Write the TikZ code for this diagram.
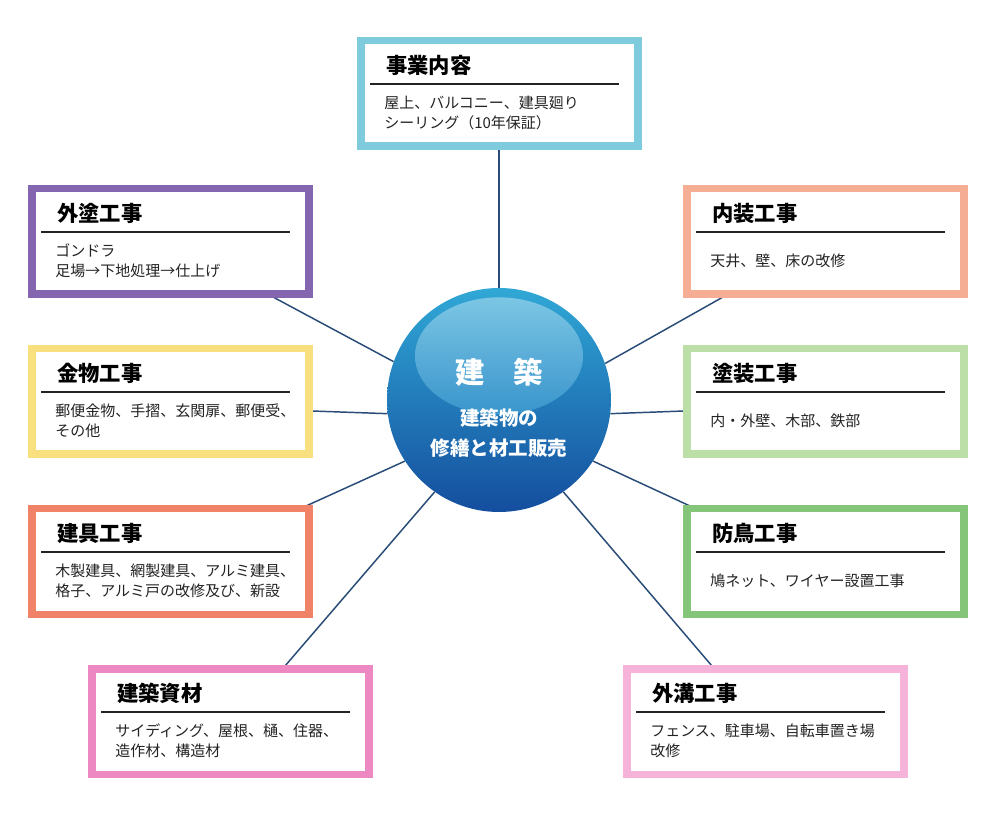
\documentclass[tikz,border=0pt]{standalone}
\usepackage{fontspec}
\setmainfont{Noto Sans CJK JP}
\usetikzlibrary{shapes.geometric}
\definecolor{cBlue}{RGB}{126,203,222}
\definecolor{cPurple}{RGB}{132,102,176}
\definecolor{cSalmon}{RGB}{245,174,148}
\definecolor{cYellow}{RGB}{248,224,126}
\definecolor{cLGreen}{RGB}{188,223,168}
\definecolor{cCoral}{RGB}{240,131,103}
\definecolor{cGreen}{RGB}{132,197,122}
\definecolor{cPink}{RGB}{238,136,194}
\definecolor{cLPink}{RGB}{245,179,218}
\definecolor{cConn}{RGB}{40,75,120}
\definecolor{cText}{RGB}{35,35,35}
\definecolor{hubTop}{RGB}{48,168,214}
\definecolor{hubMid}{RGB}{30,122,190}
\definecolor{hubBot}{RGB}{20,78,158}
\definecolor{hlTop}{RGB}{150,210,234}
\definecolor{hlBot}{RGB}{66,160,212}
\tikzset{
  kframe/.style={draw, fill=white, line width=5.6pt, minimum width=207.75pt, minimum height=79.1pt, inner sep=0pt},
  ktitle/.style={anchor=west, inner sep=0pt, font=\fontsize{16pt}{18pt}\selectfont\bfseries, text=black},
  kbody/.style={anchor=west, inner sep=0pt, align=left, font=\fontsize{11.25pt}{15pt}\selectfont, text=cText},
  krule/.style={draw=cText, line width=1.1pt},
  conn/.style={draw=cConn, line width=1.1pt},
  hubtitle/.style={text=white, font=\fontsize{22pt}{24pt}\selectfont\bfseries, inner sep=0pt},
  hubtext/.style={text=white, align=center, font=\fontsize{14.6pt}{23pt}\selectfont\bfseries, inner sep=0pt}
}
% name, x0, y0, colour, title, body, body centre offset
\newcommand\kbox[7]{%
  \node[kframe, draw=#4] (#1) at (#2+142.5,#3+56.5) {};
  \node[ktitle] (#1-t) at (#2+29,#3+28) {#5};
  \draw[krule] (#2+13,#3+47) -- (#2+262,#3+47);
  \node[kbody] (#1-b) at (#2+27,#3+#7) {#6};
}
\begin{document}
\begin{tikzpicture}[x=0.75pt,y=-0.75pt]
\fill[white] (0,0) rectangle (1000,816);
\useasboundingbox (0,0) rectangle (1000,816);

% hub
\node[circle, minimum size=168pt, inner sep=0pt, top color=hubTop, middle color=hubMid, bottom color=hubBot] (hub) at (499,400) {};

% connector ends at the boxes
\coordinate (e-jigyo) at (499,148);
\coordinate (e-gaito) at (273,297);
\coordinate (e-naiso) at (723,297);
\coordinate (e-kana) at (312,411);
\coordinate (e-toso) at (684,411);
\coordinate (e-tate) at (306,506);
\coordinate (e-bocho) at (690,506);
\coordinate (e-shizai) at (285,666);
\coordinate (e-gaiko) at (712,666);

\draw[conn] (e-jigyo) -- (hub.90);
\draw[conn] (e-gaito) -- (hub.160.8);
\draw[conn] (e-naiso) -- (hub.19.2);
\draw[conn] (e-kana) -- (hub.187.7);
\draw[conn] (e-toso) -- (hub.-7.7);
\draw[conn] (e-tate) -- (hub.213.8);
\draw[conn] (e-bocho) -- (hub.-33.8);
\draw[conn] (e-shizai) -- (hub.235);
\draw[conn] (e-gaiko) -- (hub.-55);

% highlight
\node[ellipse, minimum width=126pt, minimum height=88pt, inner sep=0pt, top color=hlTop, bottom color=hlBot, fill opacity=0.75] (hl) at (499,356) {};

\node[hubtitle] (ht) at (499,372) {建　築};
\node[hubtext] (hs) at (499,433) {建築物の\\修繕と材工販売};

% boxes
\kbox{jigyo}{357}{37}{cBlue}{事業内容}{屋上、バルコニー、建具廻り\\シーリング（10年保証）}{76}
\kbox{gaito}{28}{185}{cPurple}{外塗工事}{ゴンドラ\\足場→下地処理→仕上げ}{76}
\kbox{naiso}{683}{185}{cSalmon}{内装工事}{天井、壁、床の改修}{76}
\kbox{kana}{28}{345}{cYellow}{金物工事}{郵便金物、手摺、玄関扉、郵便受、\\その他}{76}
\kbox{toso}{683}{345}{cLGreen}{塗装工事}{内・外壁、木部、鉄部}{76}
\kbox{tate}{28}{505}{cCoral}{建具工事}{木製建具、網製建具、アルミ建具、\\格子、アルミ戸の改修及び、新設}{76}
\kbox{bocho}{683}{505}{cGreen}{防鳥工事}{鳩ネット、ワイヤー設置工事}{76}
\kbox{shizai}{88}{665}{cPink}{建築資材}{サイディング、屋根、樋、住器、\\造作材、構造材}{76}
\kbox{gaiko}{623}{665}{cLPink}{外溝工事}{フェンス、駐車場、自転車置き場\\改修}{76}
\end{tikzpicture}
\end{document}
